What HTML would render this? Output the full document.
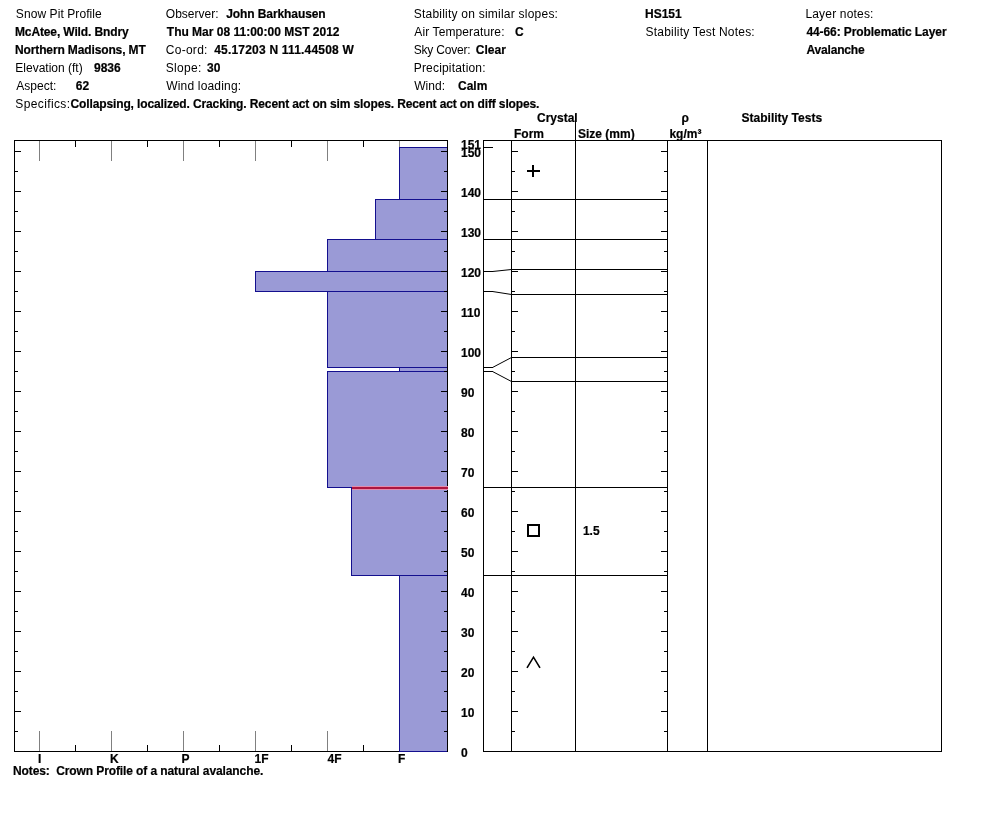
<!DOCTYPE html><html><head><meta charset="utf-8"><title>Snow Pit Profile</title><style>
html,body{margin:0;padding:0;background:#fff;}body{width:994px;height:840px;overflow:hidden;position:relative;}
svg{position:absolute;left:0;top:0;will-change:transform;}
text{font-family:"Liberation Sans",Arial,sans-serif;font-size:12px;fill:#000;}
.b{font-weight:bold;stroke:#000;stroke-width:0.2px;}
</style></head><body>
<svg width="994" height="840" viewBox="0 0 994 840">
<rect x="39" y="141" width="1" height="20" fill="#808080"/><rect x="39" y="731" width="1" height="20" fill="#808080"/><rect x="75" y="141" width="1" height="6" fill="#000"/><rect x="75" y="745" width="1" height="6" fill="#000"/><rect x="111" y="141" width="1" height="20" fill="#808080"/><rect x="111" y="731" width="1" height="20" fill="#808080"/><rect x="147" y="141" width="1" height="6" fill="#000"/><rect x="147" y="745" width="1" height="6" fill="#000"/><rect x="183" y="141" width="1" height="20" fill="#808080"/><rect x="183" y="731" width="1" height="20" fill="#808080"/><rect x="219" y="141" width="1" height="6" fill="#000"/><rect x="219" y="745" width="1" height="6" fill="#000"/><rect x="255" y="141" width="1" height="20" fill="#808080"/><rect x="255" y="731" width="1" height="20" fill="#808080"/><rect x="291" y="141" width="1" height="6" fill="#000"/><rect x="291" y="745" width="1" height="6" fill="#000"/><rect x="327" y="141" width="1" height="20" fill="#808080"/><rect x="327" y="731" width="1" height="20" fill="#808080"/><rect x="363" y="141" width="1" height="6" fill="#000"/><rect x="363" y="745" width="1" height="6" fill="#000"/><rect x="399" y="141" width="1" height="20" fill="#808080"/><rect x="399" y="731" width="1" height="20" fill="#808080"/><rect x="14" y="151" width="7" height="1" fill="#000"/><rect x="14" y="171" width="4" height="1" fill="#000"/><rect x="14" y="191" width="7" height="1" fill="#000"/><rect x="14" y="211" width="4" height="1" fill="#000"/><rect x="14" y="231" width="7" height="1" fill="#000"/><rect x="14" y="251" width="4" height="1" fill="#000"/><rect x="14" y="271" width="7" height="1" fill="#000"/><rect x="14" y="291" width="4" height="1" fill="#000"/><rect x="14" y="311" width="7" height="1" fill="#000"/><rect x="14" y="331" width="4" height="1" fill="#000"/><rect x="14" y="351" width="7" height="1" fill="#000"/><rect x="14" y="371" width="4" height="1" fill="#000"/><rect x="14" y="391" width="7" height="1" fill="#000"/><rect x="14" y="411" width="4" height="1" fill="#000"/><rect x="14" y="431" width="7" height="1" fill="#000"/><rect x="14" y="451" width="4" height="1" fill="#000"/><rect x="14" y="471" width="7" height="1" fill="#000"/><rect x="14" y="491" width="4" height="1" fill="#000"/><rect x="14" y="511" width="7" height="1" fill="#000"/><rect x="14" y="531" width="4" height="1" fill="#000"/><rect x="14" y="551" width="7" height="1" fill="#000"/><rect x="14" y="571" width="4" height="1" fill="#000"/><rect x="14" y="591" width="7" height="1" fill="#000"/><rect x="14" y="611" width="4" height="1" fill="#000"/><rect x="14" y="631" width="7" height="1" fill="#000"/><rect x="14" y="651" width="4" height="1" fill="#000"/><rect x="14" y="671" width="7" height="1" fill="#000"/><rect x="14" y="691" width="4" height="1" fill="#000"/><rect x="14" y="711" width="7" height="1" fill="#000"/><rect x="14" y="731" width="4" height="1" fill="#000"/><rect x="14" y="140" width="434" height="1" fill="#000"/><rect x="14" y="751" width="434" height="1" fill="#000"/><rect x="14" y="140" width="1" height="612" fill="#000"/><rect x="447" y="140" width="1" height="612" fill="#000"/>
<rect x="399" y="147" width="49" height="53" fill="#130f8e"/>
<rect x="400" y="148" width="47" height="51" fill="#9a9ad6"/>
<rect x="375" y="199" width="73" height="41" fill="#130f8e"/>
<rect x="376" y="200" width="71" height="39" fill="#9a9ad6"/>
<rect x="327" y="239" width="121" height="33" fill="#130f8e"/>
<rect x="328" y="240" width="119" height="31" fill="#9a9ad6"/>
<rect x="255" y="271" width="193" height="21" fill="#130f8e"/>
<rect x="256" y="272" width="191" height="19" fill="#9a9ad6"/>
<rect x="327" y="291" width="121" height="77" fill="#130f8e"/>
<rect x="328" y="292" width="119" height="75" fill="#9a9ad6"/>
<rect x="399" y="367" width="49" height="5" fill="#130f8e"/>
<rect x="400" y="368" width="47" height="3" fill="#9a9ad6"/>
<rect x="327" y="371" width="121" height="117" fill="#130f8e"/>
<rect x="328" y="372" width="119" height="115" fill="#9a9ad6"/>
<rect x="351" y="487" width="97" height="89" fill="#130f8e"/>
<rect x="352" y="488" width="95" height="87" fill="#9a9ad6"/>
<rect x="399" y="575" width="49" height="177" fill="#130f8e"/>
<rect x="400" y="576" width="47" height="175" fill="#9a9ad6"/>
<rect x="447" y="140" width="1" height="612" fill="#000"/><rect x="441" y="151" width="7" height="1" fill="#000"/><rect x="444" y="171" width="4" height="1" fill="#000"/><rect x="441" y="191" width="7" height="1" fill="#000"/><rect x="444" y="211" width="4" height="1" fill="#000"/><rect x="441" y="231" width="7" height="1" fill="#000"/><rect x="444" y="251" width="4" height="1" fill="#000"/><rect x="441" y="271" width="7" height="1" fill="#000"/><rect x="444" y="291" width="4" height="1" fill="#000"/><rect x="441" y="311" width="7" height="1" fill="#000"/><rect x="444" y="331" width="4" height="1" fill="#000"/><rect x="441" y="351" width="7" height="1" fill="#000"/><rect x="444" y="371" width="4" height="1" fill="#000"/><rect x="441" y="391" width="7" height="1" fill="#000"/><rect x="444" y="411" width="4" height="1" fill="#000"/><rect x="441" y="431" width="7" height="1" fill="#000"/><rect x="444" y="451" width="4" height="1" fill="#000"/><rect x="441" y="471" width="7" height="1" fill="#000"/><rect x="444" y="491" width="4" height="1" fill="#000"/><rect x="441" y="511" width="7" height="1" fill="#000"/><rect x="444" y="531" width="4" height="1" fill="#000"/><rect x="441" y="551" width="7" height="1" fill="#000"/><rect x="444" y="571" width="4" height="1" fill="#000"/><rect x="441" y="591" width="7" height="1" fill="#000"/><rect x="444" y="611" width="4" height="1" fill="#000"/><rect x="441" y="631" width="7" height="1" fill="#000"/><rect x="444" y="651" width="4" height="1" fill="#000"/><rect x="441" y="671" width="7" height="1" fill="#000"/><rect x="444" y="691" width="4" height="1" fill="#000"/><rect x="441" y="711" width="7" height="1" fill="#000"/><rect x="444" y="731" width="4" height="1" fill="#000"/><rect x="352" y="486" width="96" height="1" fill="#e48cac"/><rect x="352" y="489" width="96" height="1" fill="#e48cac"/><rect x="352" y="487" width="96" height="1" fill="#ad1640"/><rect x="352" y="488" width="96" height="1" fill="#ad1640"/>
<rect x="483" y="140" width="459" height="1" fill="#000"/><rect x="483" y="751" width="459" height="1" fill="#000"/><rect x="483" y="140" width="1" height="612" fill="#000"/><rect x="941" y="140" width="1" height="612" fill="#000"/><rect x="511" y="140" width="1" height="612" fill="#000"/><rect x="575" y="140" width="1" height="612" fill="#000"/><rect x="667" y="140" width="1" height="612" fill="#000"/><rect x="707" y="140" width="1" height="612" fill="#000"/><rect x="575" y="114" width="1" height="27" fill="#000"/><rect x="483" y="147" width="10" height="1" fill="#000"/><rect x="483" y="199" width="185" height="1" fill="#000"/><rect x="483" y="239" width="185" height="1" fill="#000"/><rect x="483" y="487" width="185" height="1" fill="#000"/><rect x="483" y="575" width="185" height="1" fill="#000"/><rect x="511" y="269" width="157" height="1" fill="#000"/><rect x="511" y="294" width="157" height="1" fill="#000"/><rect x="511" y="357" width="157" height="1" fill="#000"/><rect x="511" y="381" width="157" height="1" fill="#000"/><rect x="483" y="271" width="10" height="1" fill="#000"/><rect x="483" y="291" width="10" height="1" fill="#000"/><rect x="483" y="367" width="10" height="1" fill="#000"/><rect x="483" y="371" width="10" height="1" fill="#000"/><rect x="511" y="151" width="7" height="1" fill="#000"/><rect x="661" y="151" width="7" height="1" fill="#000"/><rect x="511" y="171" width="4" height="1" fill="#000"/><rect x="664" y="171" width="4" height="1" fill="#000"/><rect x="511" y="191" width="7" height="1" fill="#000"/><rect x="661" y="191" width="7" height="1" fill="#000"/><rect x="511" y="211" width="4" height="1" fill="#000"/><rect x="664" y="211" width="4" height="1" fill="#000"/><rect x="511" y="231" width="7" height="1" fill="#000"/><rect x="661" y="231" width="7" height="1" fill="#000"/><rect x="511" y="251" width="4" height="1" fill="#000"/><rect x="664" y="251" width="4" height="1" fill="#000"/><rect x="511" y="271" width="7" height="1" fill="#000"/><rect x="661" y="271" width="7" height="1" fill="#000"/><rect x="511" y="291" width="4" height="1" fill="#000"/><rect x="664" y="291" width="4" height="1" fill="#000"/><rect x="511" y="311" width="7" height="1" fill="#000"/><rect x="661" y="311" width="7" height="1" fill="#000"/><rect x="511" y="331" width="4" height="1" fill="#000"/><rect x="664" y="331" width="4" height="1" fill="#000"/><rect x="511" y="351" width="7" height="1" fill="#000"/><rect x="661" y="351" width="7" height="1" fill="#000"/><rect x="511" y="371" width="4" height="1" fill="#000"/><rect x="664" y="371" width="4" height="1" fill="#000"/><rect x="511" y="391" width="7" height="1" fill="#000"/><rect x="661" y="391" width="7" height="1" fill="#000"/><rect x="511" y="411" width="4" height="1" fill="#000"/><rect x="664" y="411" width="4" height="1" fill="#000"/><rect x="511" y="431" width="7" height="1" fill="#000"/><rect x="661" y="431" width="7" height="1" fill="#000"/><rect x="511" y="451" width="4" height="1" fill="#000"/><rect x="664" y="451" width="4" height="1" fill="#000"/><rect x="511" y="471" width="7" height="1" fill="#000"/><rect x="661" y="471" width="7" height="1" fill="#000"/><rect x="511" y="491" width="4" height="1" fill="#000"/><rect x="664" y="491" width="4" height="1" fill="#000"/><rect x="511" y="511" width="7" height="1" fill="#000"/><rect x="661" y="511" width="7" height="1" fill="#000"/><rect x="511" y="531" width="4" height="1" fill="#000"/><rect x="664" y="531" width="4" height="1" fill="#000"/><rect x="511" y="551" width="7" height="1" fill="#000"/><rect x="661" y="551" width="7" height="1" fill="#000"/><rect x="511" y="571" width="4" height="1" fill="#000"/><rect x="664" y="571" width="4" height="1" fill="#000"/><rect x="511" y="591" width="7" height="1" fill="#000"/><rect x="661" y="591" width="7" height="1" fill="#000"/><rect x="511" y="611" width="4" height="1" fill="#000"/><rect x="664" y="611" width="4" height="1" fill="#000"/><rect x="511" y="631" width="7" height="1" fill="#000"/><rect x="661" y="631" width="7" height="1" fill="#000"/><rect x="511" y="651" width="4" height="1" fill="#000"/><rect x="664" y="651" width="4" height="1" fill="#000"/><rect x="511" y="671" width="7" height="1" fill="#000"/><rect x="661" y="671" width="7" height="1" fill="#000"/><rect x="511" y="691" width="4" height="1" fill="#000"/><rect x="664" y="691" width="4" height="1" fill="#000"/><rect x="511" y="711" width="7" height="1" fill="#000"/><rect x="661" y="711" width="7" height="1" fill="#000"/><rect x="511" y="731" width="4" height="1" fill="#000"/><rect x="664" y="731" width="4" height="1" fill="#000"/>
<line x1="492.5" y1="271.5" x2="511.5" y2="269.5" stroke="#000" stroke-width="1"/>
<line x1="492.5" y1="291.5" x2="511.5" y2="294.5" stroke="#000" stroke-width="1"/>
<line x1="492.5" y1="367.5" x2="511.5" y2="357.5" stroke="#000" stroke-width="1"/>
<line x1="492.5" y1="371.5" x2="511.5" y2="381.5" stroke="#000" stroke-width="1"/>
<rect x="532" y="165" width="2" height="12" fill="#000"/><rect x="527" y="170" width="13" height="2" fill="#000"/>
<rect x="528" y="525" width="11" height="11" fill="none" stroke="#000" stroke-width="2"/>
<polyline points="527,667.8 533.5,657.2 540,667.8" fill="none" stroke="#000" stroke-width="1.6"/>
<text x="15.8" y="18" textLength="86.00" lengthAdjust="spacing">Snow Pit Profile</text>
<text x="165.8" y="18">Observer:</text>
<text x="226.2" y="18" class="b" textLength="99.50" lengthAdjust="spacing">John Barkhausen</text>
<text x="413.7" y="18" textLength="144.26" lengthAdjust="spacing">Stability on similar slopes:</text>
<text x="645.0" y="18" class="b">HS151</text>
<text x="805.4" y="18" textLength="68.05" lengthAdjust="spacing">Layer notes:</text>
<text x="15.0" y="36" class="b" textLength="113.61" lengthAdjust="spacing">McAtee, Wild. Bndry</text>
<text x="166.8" y="36" class="b">Thu Mar 08 11:00:00 MST 2012</text>
<text x="414.3" y="36" textLength="90.18" lengthAdjust="spacing">Air Temperature:</text>
<text x="515.1" y="36" class="b">C</text>
<text x="645.6" y="36" textLength="109.07" lengthAdjust="spacing">Stability Test Notes:</text>
<text x="806.4" y="36" class="b" textLength="140.18" lengthAdjust="spacing">44-66: Problematic Layer</text>
<text x="15.0" y="54" class="b" textLength="130.74" lengthAdjust="spacing">Northern Madisons, MT</text>
<text x="165.8" y="54" textLength="41.62" lengthAdjust="spacing">Co-ord:</text>
<text x="214.2" y="54" class="b" textLength="139.65" lengthAdjust="spacing">45.17203 N 111.44508 W</text>
<text x="413.7" y="54" textLength="56.99" lengthAdjust="spacing">Sky Cover:</text>
<text x="475.8" y="54" class="b">Clear</text>
<text x="806.4" y="54" class="b" textLength="58.29" lengthAdjust="spacing">Avalanche</text>
<text x="15.3" y="72">Elevation (ft)</text>
<text x="94.0" y="72" class="b">9836</text>
<text x="165.8" y="72" textLength="35.43" lengthAdjust="spacing">Slope:</text>
<text x="207.0" y="72" class="b">30</text>
<text x="413.7" y="72" textLength="71.88" lengthAdjust="spacing">Precipitation:</text>
<text x="16.3" y="90">Aspect:</text>
<text x="75.8" y="90" class="b">62</text>
<text x="166.2" y="90" textLength="74.92" lengthAdjust="spacing">Wind loading:</text>
<text x="414.3" y="90">Wind:</text>
<text x="458.0" y="90" class="b">Calm</text>
<text x="15.3" y="108" textLength="54.76" lengthAdjust="spacing">Specifics:</text>
<text x="70.5" y="108" class="b" textLength="468.95" lengthAdjust="spacing">Collapsing, localized. Cracking. Recent act on sim slopes. Recent act on diff slopes.</text>
<text x="537.0" y="122" class="b">Crystal</text>
<text x="514.0" y="138" class="b">Form</text>
<text x="578.0" y="138" class="b">Size (mm)</text>
<text x="681.6" y="122" class="b">ρ</text>
<text x="669.4" y="138" class="b">kg/m³</text>
<text x="741.6" y="122" class="b">Stability Tests</text>
<text x="13.0" y="775" class="b" textLength="250.33" lengthAdjust="spacing">Notes:&#160; Crown Profile of a natural avalanche.</text>
<text x="38.0" y="763" class="b">I</text>
<text x="110.0" y="763" class="b">K</text>
<text x="181.6" y="763" class="b">P</text>
<text x="254.6" y="763" class="b">1F</text>
<text x="327.5" y="763" class="b">4F</text>
<text x="398.0" y="763" class="b">F</text>
<text x="582.9" y="535" class="b">1.5</text>
<text x="461" y="757" class="b">0</text>
<text x="461" y="717" class="b">10</text>
<text x="461" y="677" class="b">20</text>
<text x="461" y="637" class="b">30</text>
<text x="461" y="597" class="b">40</text>
<text x="461" y="557" class="b">50</text>
<text x="461" y="517" class="b">60</text>
<text x="461" y="477" class="b">70</text>
<text x="461" y="437" class="b">80</text>
<text x="461" y="397" class="b">90</text>
<text x="461" y="357" class="b">100</text>
<text x="461" y="317" class="b">110</text>
<text x="461" y="277" class="b">120</text>
<text x="461" y="237" class="b">130</text>
<text x="461" y="197" class="b">140</text>
<text x="461" y="157" class="b">150</text>
<text x="461" y="149" class="b">151</text>
</svg></body></html>
